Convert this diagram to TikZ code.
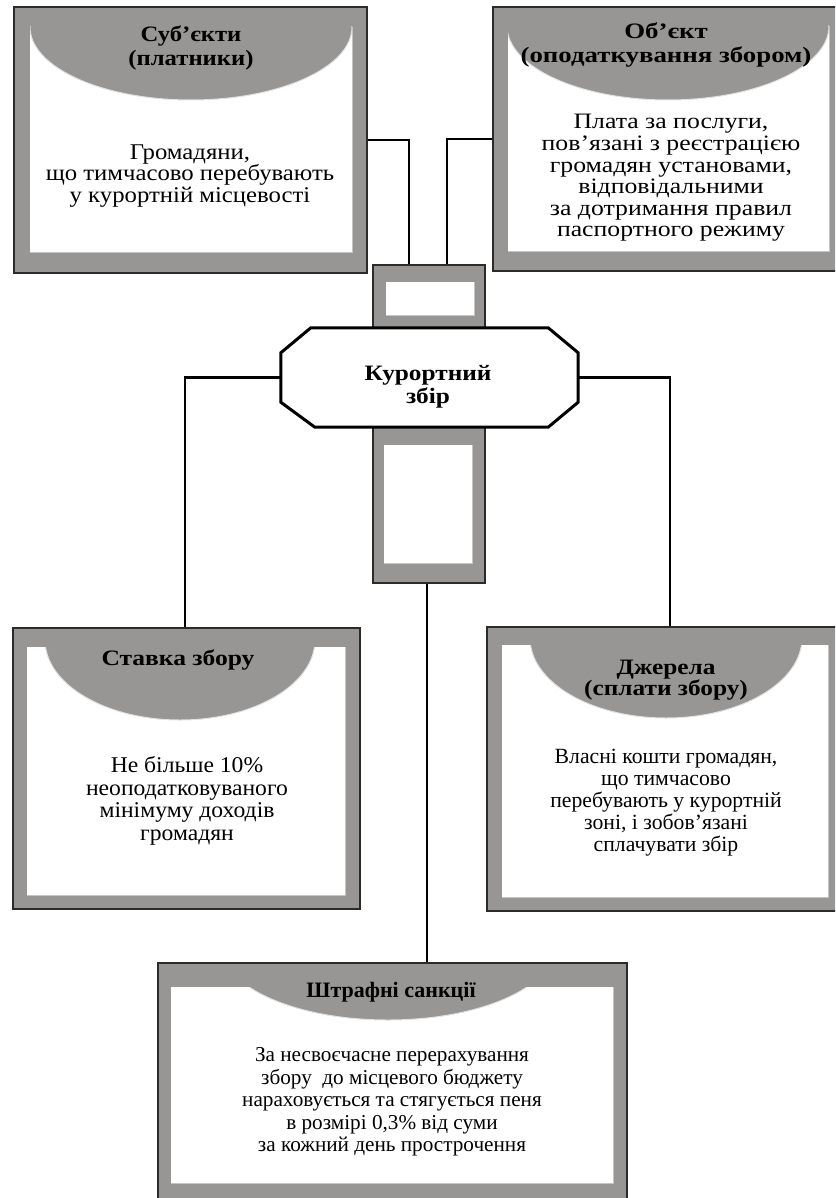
\documentclass[tikz,border=0pt]{standalone}
\usepackage{fontspec}
\setmainfont{Liberation Serif}
\usetikzlibrary{calc}

\definecolor{boxgray}{RGB}{151,150,149}
\definecolor{rimdark}{RGB}{45,42,42}
\definecolor{bevel}{RGB}{196,196,196}
\definecolor{capedge}{RGB}{225,225,225}

% size, baseline skip, horizontal stretch
\newcommand{\txtface}[3]{\fontsize{#1}{#2}\selectfont\addfontfeatures{FakeStretch=#3}}

\tikzset{
  outerbox/.style={fill=boxgray, draw=rimdark, line width=1.3pt, inner sep=0pt},
  hub/.style={fill=boxgray, draw=rimdark, line width=1.3pt, inner sep=0pt},
  link/.style={draw=black, line width=2.2pt},
  octo/.style={fill=white, draw=black, line width=3pt, line join=miter},
  head/.style n args={3}{align=center, inner sep=0pt, font=\bfseries\txtface{#1}{#2}{#3}},
  body/.style n args={3}{align=center, inner sep=0pt, font=\txtface{#1}{#2}{#3}},
  bevelline/.style={draw=bevel, line width=1pt},
}

% white panel with a grey elliptic cap, clipped to the panel
\newcommand{\capPanel}[8]{% x1 y1 x2 y2 cx cy rx ry
  \fill[white] (#1,#2) rectangle (#3,#4);
  \begin{scope}
    \clip (#1,#2) rectangle (#3,#4);
    \fill[boxgray] (#5,#6) ellipse [x radius=#7, y radius=#8];
    \draw[capedge, line width=1pt] (#5,#6) ellipse [x radius=#7, y radius=#8];
  \end{scope}
  \draw[bevelline] (#1,#4) -- (#3,#4) -- (#3,#2);
}
\newcommand{\plainPanel}[4]{%
  \fill[white] (#1,#2) rectangle (#3,#4);
  \draw[bevelline] (#1,#4) -- (#3,#4) -- (#3,#2);
}

\begin{document}
\begin{tikzpicture}[x=1pt, y=-1pt]
\useasboundingbox (0,0) rectangle (835,1198);
\clip (0,0) rectangle (835,1198);

% outer frames
\node[outerbox, minimum width=353pt, minimum height=266pt] (subj) at (190.5,140) {};
\node[outerbox, minimum width=352pt, minimum height=264pt] (obj) at (669,139) {};
\node[outerbox, minimum width=347pt, minimum height=281pt] (rate) at (186.5,768.5) {};
\node[outerbox, minimum width=358pt, minimum height=284pt] (src) at (666,769) {};
\node[outerbox, minimum width=469pt, minimum height=250pt] (fine) at (392.5,1088) {};

% central hub pieces
\node[hub, minimum width=112pt, minimum height=63pt] (tb) at (429,296.5) {};
\node[hub, minimum width=112pt, minimum height=156pt] (bb) at (429,505) {};
\plainPanel{386}{282}{474}{315}
\plainPanel{384}{445}{472}{563}

% panels with caps
\capPanel{30}{27}{352}{252}{191}{27}{161}{73}
\capPanel{508}{26}{829}{251}{668}{26}{161}{74}
\capPanel{27}{647}{345}{895}{180}{640}{135}{80}
\capPanel{502}{645}{828}{897}{666}{638}{136}{80}
\capPanel{171}{987}{613}{1183}{388}{947}{166}{73}

% central octagon
\node[minimum width=297pt, minimum height=99pt, inner sep=0pt] (kz) at (429.5,377.5) {};
\draw[octo]
  ($(kz.north west)+(30,0)$) -- ($(kz.north east)+(-30,0)$) --
  ($(kz.north east)+(0,25)$) -- ($(kz.south east)+(0,-25)$) --
  ($(kz.south east)+(-30,0)$) -- ($(kz.south west)+(34,0)$) --
  ($(kz.south west)+(0,-25)$) -- ($(kz.north west)+(0,25)$) -- cycle;
\node[head={22}{23}{1.15}] (kzt) at (428,387) {Курортний\\збір};

% connectors
\coordinate (tbl) at ($(tb.north)+(-20,0)$);
\coordinate (tbr) at ($(tb.north)+(18,0)$);
\coordinate (ratein) at ($(rate.north)+(-1.5,0)$);
\coordinate (srcin) at ($(src.north)+(4,0)$);
\coordinate (bbout) at ($(bb.south)+(-2,0)$);
\draw[link] (subj.east) -| (tbl);
\draw[link] (obj.west) -| (tbr);
\draw[link] (kz.west) -| (ratein);
\draw[link] (kz.east) -| (srcin);
\draw[link] (bbout) -- (bbout |- fine.north);

% texts
\node[head={22}{23.5}{1.12}] (subjh) at (191,48) {Суб’єкти\\(платники)};
\node[body={22.5}{21.5}{1.1}] (subjb) at (190,176) {Громадяни,\\що тимчасово перебувають\\у курортній місцевості};

\node[head={22}{24.5}{1.22}] (objh) at (666,45) {Об’єкт\\(оподаткування збором)};
\node[body={22}{21.6}{1.17}] (objb) at (671,178) {Плата за послуги,\\пов’язані з реєстрацією\\громадян установами,\\відповідальними\\за дотримання правил\\паспортного режиму};

\node[head={22}{23}{1.16}] (rateh) at (178,660) {Ставка збору};
\node[body={22.5}{22.5}{1.05}] (rateb) at (187,801) {Не більше 10\%\\неоподатковуваного\\мінімуму доходів\\громадян};

\node[head={22}{21.5}{1.15}] (srch) at (666,680) {Джерела\\(сплати збору)};
\node[body={21.7}{22}{1.0}] (srcb) at (666,803) {Власні кошти громадян,\\що тимчасово\\перебувають у курортній\\зоні, і зобов’язані\\сплачувати збір};

\node[head={22}{23}{1.0}] (fineh) at (391,992) {Штрафні санкції};
\node[body={21.2}{22.5}{1.0}] (fineb) at (392,1102) {За несвоєчасне перерахування\\збору\ \ до місцевого бюджету\\нараховується та стягується пеня\\в розмірі 0,3\% від суми\\за кожний день прострочення};
\end{tikzpicture}
\end{document}
